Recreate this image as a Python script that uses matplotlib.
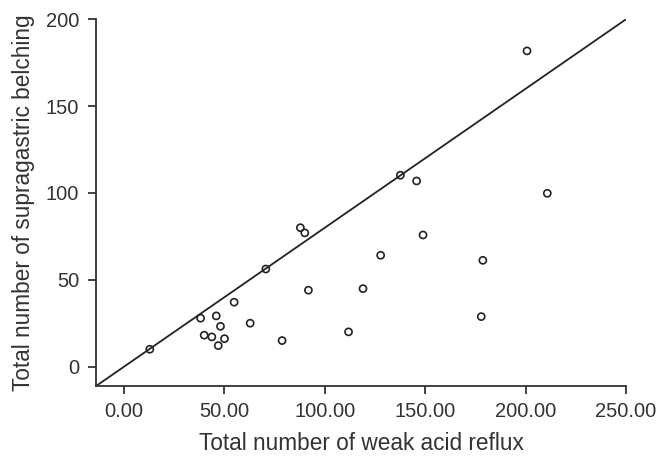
import matplotlib
matplotlib.use("Agg")
import matplotlib.pyplot as plt

weak_acid_reflux = [12.8, 38.1, 39.9, 43.7, 45.9, 48.0, 46.9, 50.0, 54.8, 62.8,
                    70.6, 78.7, 87.8, 90.0, 91.8, 111.8, 119.0, 127.8, 137.6, 145.7,
                    148.9, 178.7, 177.9, 200.7, 210.8]
supragastric_belching = [10.0, 27.9, 18.1, 17.1, 29.2, 23.2, 12.1, 16.1, 37.1, 25.0,
                         56.2, 15.0, 80.0, 77.0, 44.0, 20.0, 44.9, 64.1, 110.2, 106.9,
                         75.8, 61.2, 28.8, 181.8, 99.8]
line_slope = 0.8
x_ticks = [0, 50, 100, 150, 200, 250]
x_tick_labels = ["0.00", "50.00", "100.00", "150.00", "200.00", "250.00"]
y_ticks = [0, 50, 100, 150, 200]

plt.rcParams['font.family'] = ['Liberation Sans', 'DejaVu Sans']

fig = plt.figure(figsize=(6.69, 4.65), dpi=100)
ax = fig.add_axes([0.1435, 0.1705, 0.7922, 0.788])

xmin, xmax = -14, 250
ymin, ymax = -11, 200
ax.plot([xmin, xmax], [line_slope * xmin, line_slope * xmax], color="#222222", lw=1.3)
ax.scatter(weak_acid_reflux, supragastric_belching, s=26, facecolors="none",
           edgecolors="#222222", linewidths=1.2, zorder=3)

ax.set_xlim(xmin, xmax)
ax.set_ylim(ymin, ymax)
ax.set_xticks(x_ticks)
ax.set_xticklabels(x_tick_labels)
ax.set_yticks(y_ticks)
for s in ["top", "right"]:
    ax.spines[s].set_visible(False)
for s in ["left", "bottom"]:
    ax.spines[s].set_linewidth(1.3)
    ax.spines[s].set_color("#333333")
ax.tick_params(direction="out", length=6, width=1.3, color="#333333",
               labelsize=14.5, labelcolor="#333333", pad=6)
ax.set_xlabel("Total number of weak acid reflux", fontsize=16.3, color="#333333", labelpad=8)
ax.set_ylabel("Total number of supragastric belching", fontsize=16.3, color="#333333", labelpad=8)

fig.savefig("out.png", dpi=100)
